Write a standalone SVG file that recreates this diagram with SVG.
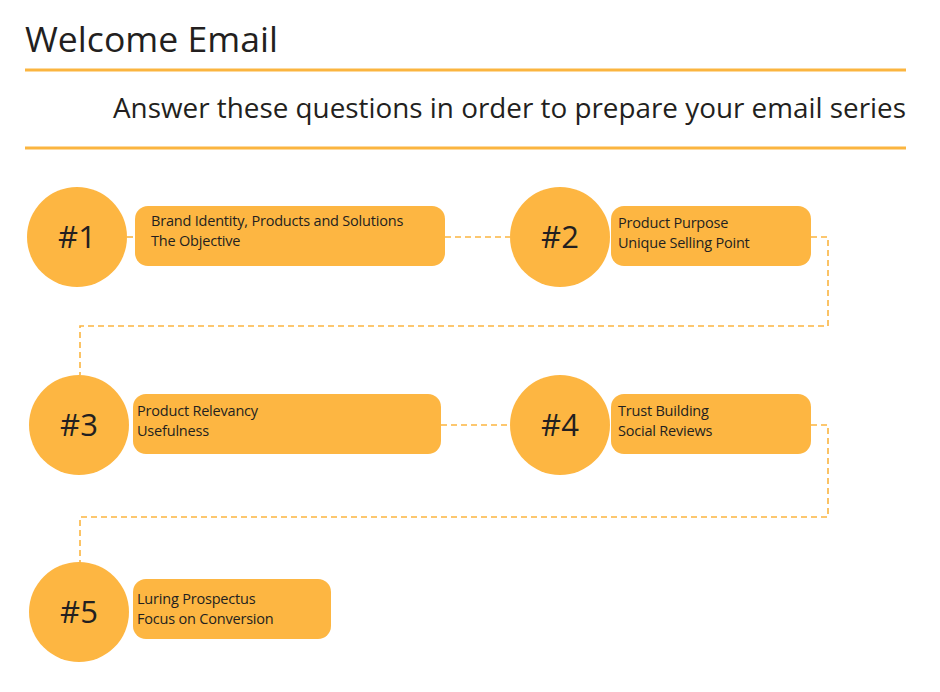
<svg xmlns="http://www.w3.org/2000/svg" width="940" height="692" viewBox="0 0 940 692">
<style>
.c{fill:#fdb642}
.b{fill:#fdb642}
.n{font-family:"Open Sans","Liberation Sans",sans-serif;font-size:31px;fill:#231f20;text-anchor:middle}
.t{font-family:"Open Sans","Liberation Sans",sans-serif;font-size:14.5px;fill:#231f20;letter-spacing:-0.2px}
.rule{stroke:#fbb540;stroke-width:3}
.d{fill:none;stroke:#fbb540;stroke-width:1.6;stroke-dasharray:6 4}
</style>
<rect width="940" height="692" fill="#fff"/>
<text x="25" y="52" font-family="Open Sans,Liberation Sans,sans-serif" font-size="35" fill="#231f20" textLength="253" lengthAdjust="spacingAndGlyphs">Welcome Email</text>
<line class="rule" x1="25" y1="70" x2="906" y2="70"/>
<text x="113" y="118" font-family="Open Sans,Liberation Sans,sans-serif" font-size="28" fill="#231f20" textLength="793" lengthAdjust="spacingAndGlyphs">Answer these questions in order to prepare your email series</text>
<line class="rule" x1="25" y1="148" x2="906" y2="148"/>
<g id="connectors">
<path class="d" d="M445 237H510"/>
<path class="d" d="M811 237H828V326H80V375"/>
<path class="d" d="M441 425H510"/>
<path class="d" d="M811 425H828V517H80V563"/>
<path class="d" d="M127 237H135"/>
</g>
<g id="n1"><circle class="c" cx="77" cy="237" r="50"/><text class="n" x="77" y="248">#1</text>
<rect class="b" x="135" y="206" width="310" height="60" rx="13"/><text class="t" x="151" y="226">Brand Identity, Products and Solutions</text><text class="t" x="151" y="246">The Objective</text></g>
<g id="n2"><circle class="c" cx="560" cy="237" r="50"/><text class="n" x="560" y="248">#2</text>
<rect class="b" x="611" y="206" width="200" height="60" rx="13"/><text class="t" x="618" y="228">Product Purpose</text><text class="t" x="618" y="248">Unique Selling Point</text></g>
<g id="n3"><circle class="c" cx="79" cy="425" r="50"/><text class="n" x="79" y="436">#3</text>
<rect class="b" x="133" y="394" width="308" height="60" rx="13"/><text class="t" x="137" y="416">Product Relevancy</text><text class="t" x="137" y="436">Usefulness</text></g>
<g id="n4"><circle class="c" cx="560" cy="425" r="50"/><text class="n" x="560" y="436">#4</text>
<rect class="b" x="611" y="394" width="200" height="60" rx="13"/><text class="t" x="618" y="416">Trust Building</text><text class="t" x="618" y="436">Social Reviews</text></g>
<g id="n5"><circle class="c" cx="79" cy="612" r="50"/><text class="n" x="79" y="623">#5</text>
<rect class="b" x="133" y="579" width="198" height="60" rx="13"/><text class="t" x="137" y="604">Luring Prospectus</text><text class="t" x="137" y="624">Focus on Conversion</text></g>
</svg>
